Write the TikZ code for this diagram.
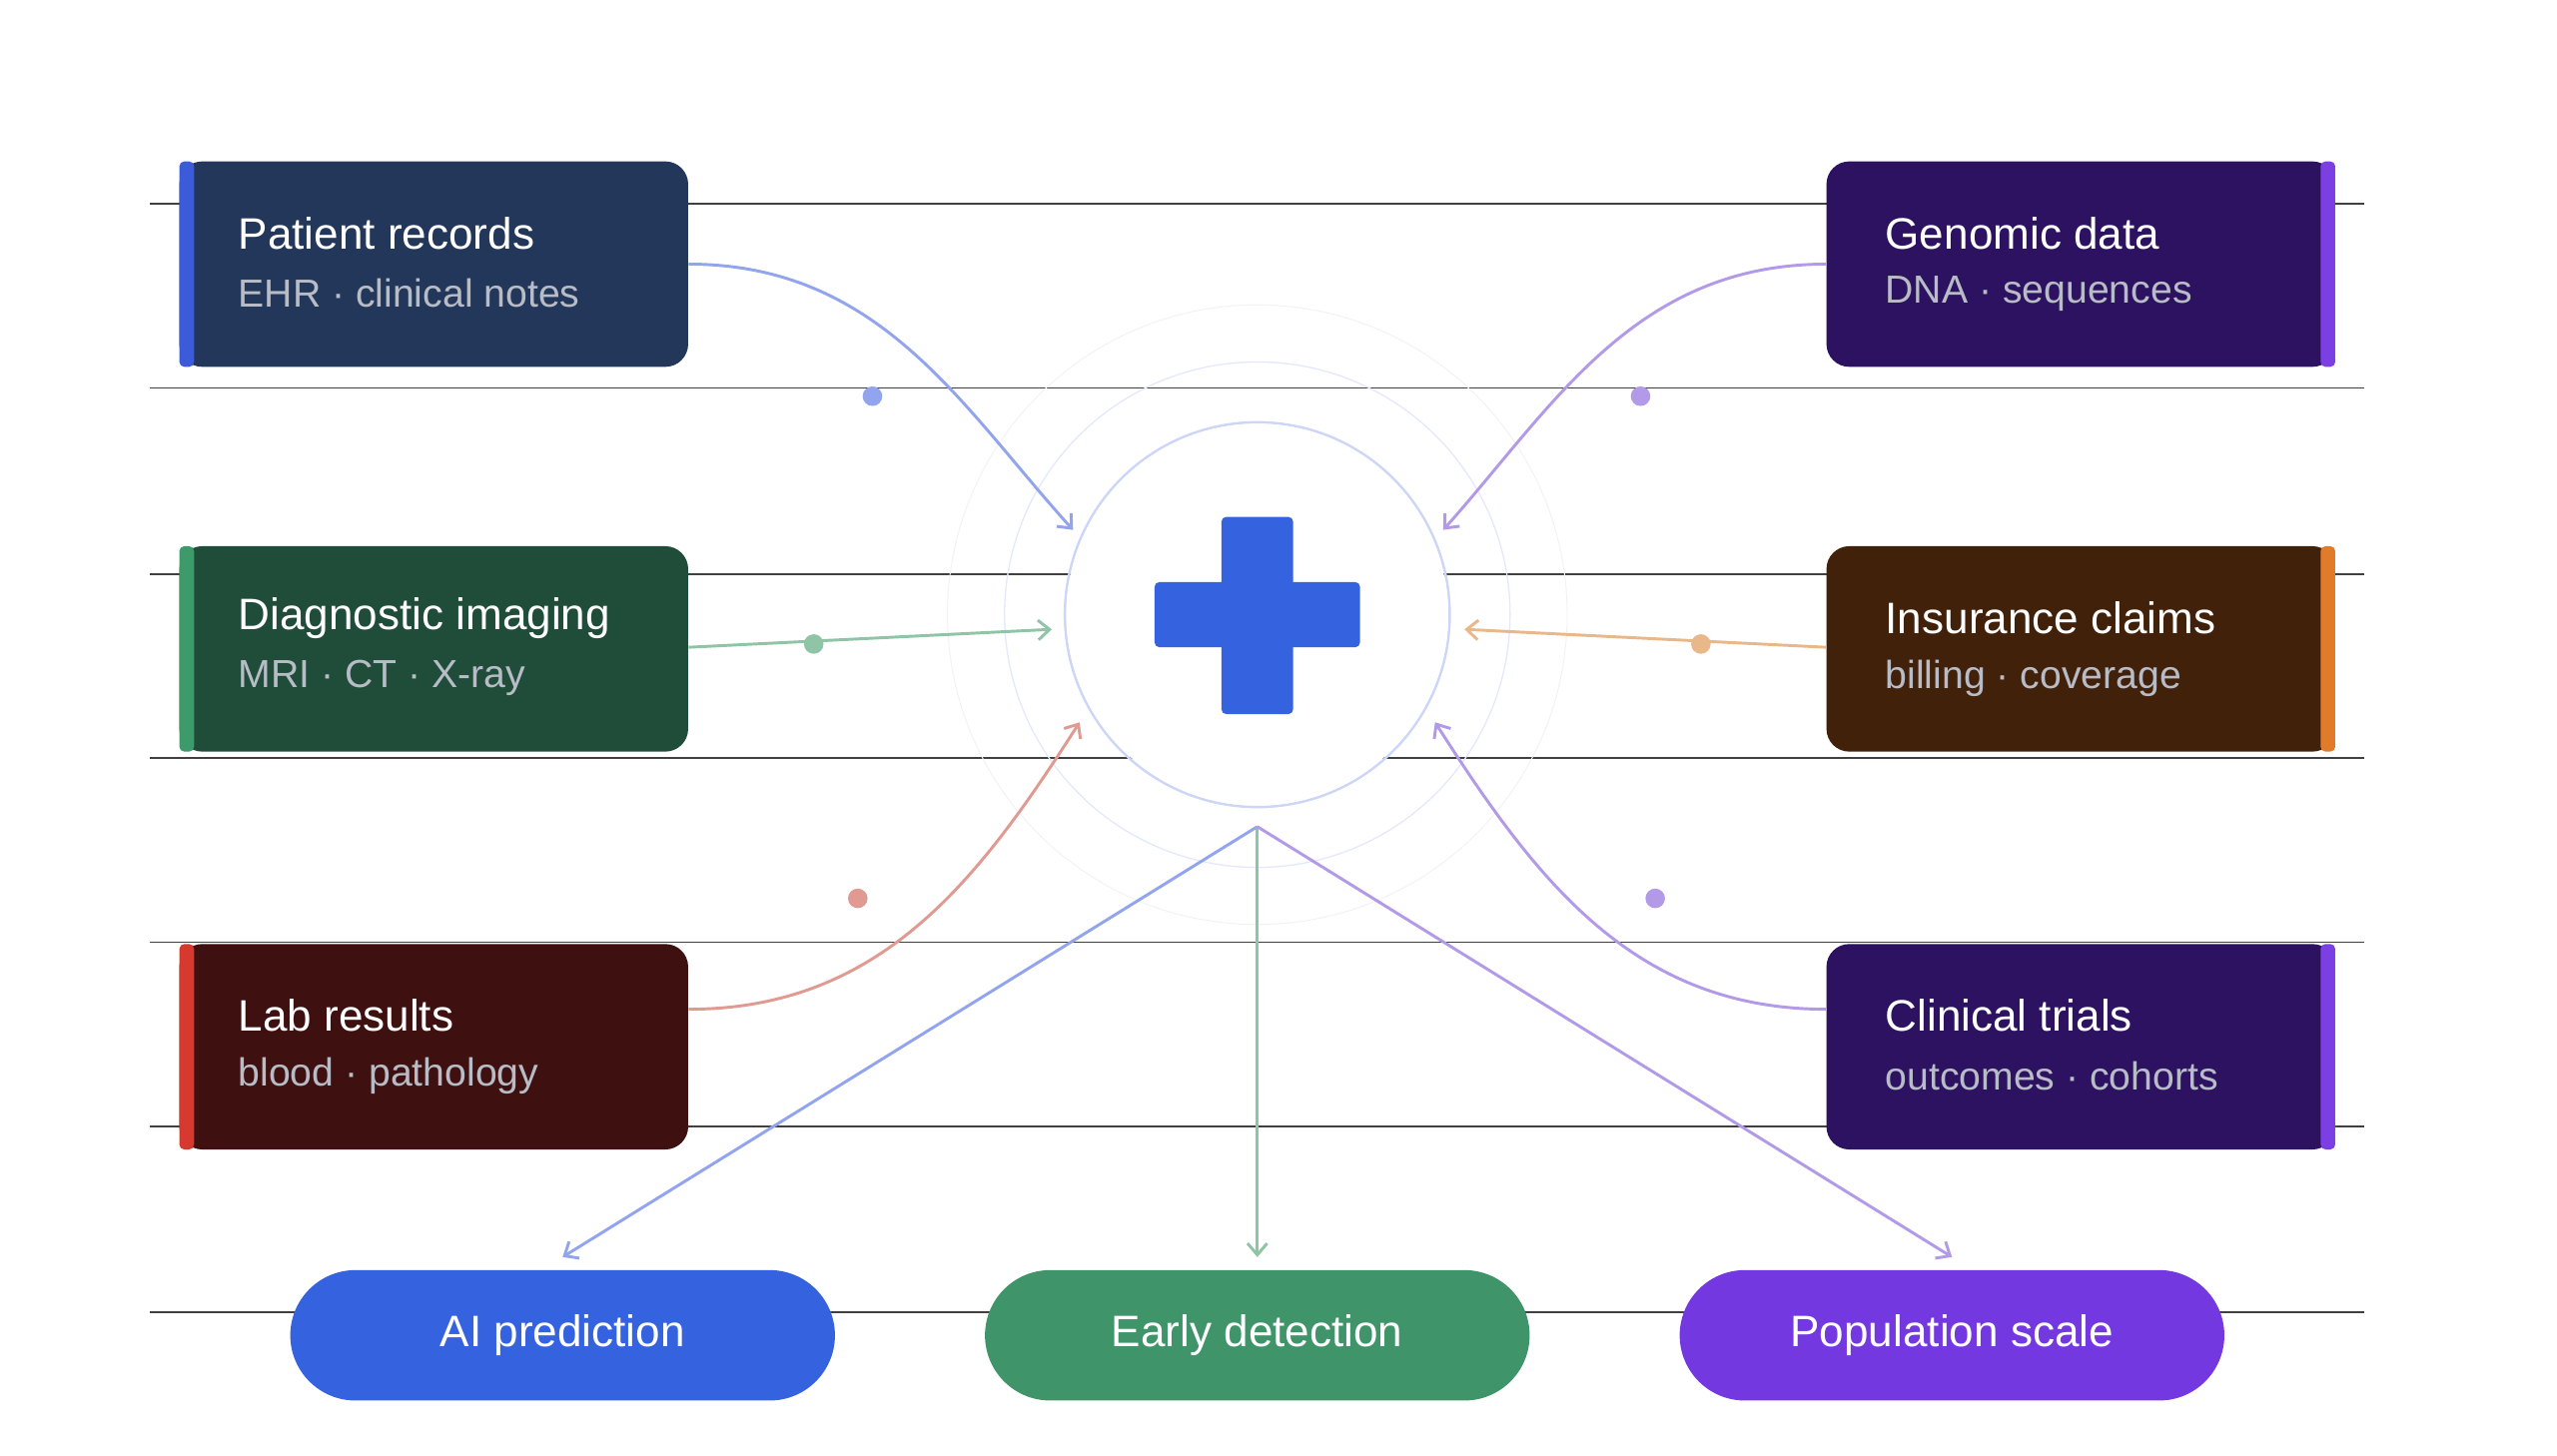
\documentclass[tikz,border=0pt]{standalone}
\usepackage{fontspec}
\setmainfont{Liberation Sans}
\usetikzlibrary{arrows.meta}
\definecolor{bA}{HTML}{22375A}\definecolor{aA}{HTML}{3B5BDB}
\definecolor{bB}{HTML}{1F4D3A}\definecolor{aB}{HTML}{3D9A6A}
\definecolor{bC}{HTML}{3F1010}\definecolor{aC}{HTML}{D63A2F}
\definecolor{bD}{HTML}{2C1260}\definecolor{aD}{HTML}{7B3FE4}
\definecolor{bE}{HTML}{42210B}\definecolor{aE}{HTML}{E07B2A}
\definecolor{cblue}{HTML}{93A4EF}\definecolor{cpur}{HTML}{B39AE8}
\definecolor{cgreen}{HTML}{8FC4A6}\definecolor{corange}{HTML}{E8B88A}
\definecolor{cred}{HTML}{E09A92}
\definecolor{pA}{HTML}{3563E0}\definecolor{pB}{HTML}{3F9569}\definecolor{pC}{HTML}{7438E0}
\definecolor{sub}{HTML}{B8BCC6}
\begin{document}
\begin{tikzpicture}[x=1pt,y=-1pt,
  box/.style={rounded corners=14pt,minimum width=312pt,minimum height=126pt,inner sep=0pt},
  ttl/.style={text=white,font=\fontsize{27}{30}\selectfont,anchor=west,inner sep=0pt},
  stl/.style={text=sub,font=\fontsize{24}{26}\selectfont,anchor=west,inner sep=0pt},
  pill/.style={rounded corners=40pt,minimum width=334pt,minimum height=80pt,text=white,font=\fontsize{27}{30}\selectfont},
  con/.style={line width=1.8pt,-{Straight Barb[length=7pt,width=12pt]}},
  dot/.style={circle,inner sep=0pt,minimum size=12pt}]
\useasboundingbox (0,0) rectangle (1568,893);
\foreach \y in {125,238,352,465,578,691,805} \draw[line width=1pt,black!75] (92,\y)--(1450,\y);
% circles
\draw[line width=0.6pt,black!5] (771,377) circle (190);
\draw[line width=0.8pt,cblue!25] (771,377) circle (155);
\draw[line width=1.5pt,cblue!45] (771,377) circle (118);
\fill[fill=white] (771,377) circle (117);
\node[fill=pA,rounded corners=3pt,minimum width=44pt,minimum height=121pt] (cv) at (771,377.5) {};
\node[fill=pA,rounded corners=3pt,minimum width=126pt,minimum height=40pt] (ch) at (771,377) {};
\coordinate (hub) at (771,507);
% boxes
\newcommand\lbox[6]{%
 \node[box,fill=#2] (#1) at (266,#4) {};
 \fill[#3,rounded corners=3pt] (110,#4-63) rectangle (119,#4+63);
 \node[ttl] at (146,#4-19) {#5};
 \node[stl] at (146,#4+18) {#6};}
\newcommand\rbox[6]{%
 \node[box,fill=#2] (#1) at (1276,#4) {};
 \fill[#3,rounded corners=3pt] (1423,#4-63) rectangle (1432,#4+63);
 \node[ttl] at (1156,#4-19) {#5};
 \node[stl] at (1156,#4+18) {#6};}
\lbox{pr}{bA}{aA}{162}{Patient records}{EHR · clinical notes}
\lbox{di}{bB}{aB}{398}{Diagnostic imaging}{MRI · CT · X-ray}
\lbox{lr}{bC}{aC}{642}{Lab results}{blood · pathology}
\rbox{gd}{bD}{aD}{162}{Genomic data}{DNA · sequences}
\rbox{ic}{bE}{aE}{398}{Insurance claims}{billing · coverage}
\rbox{ct}{bD}{aD}{642}{Clinical trials}{outcomes · cohorts}
\coordinate (t1) at (658,325);\coordinate (t2) at (885,325);
\coordinate (t3) at (645,386);\coordinate (t4) at (898,386);
\coordinate (t5) at (662,443);\coordinate (t6) at (880,443);
\draw[con,cblue] (pr.east|-0,162) .. controls (540,162) and (590,250) .. (t1);
\draw[con,cpur] (gd.west|-0,162) .. controls (1002,162) and (952,250) .. (t2);
\draw[con,cgreen] (di.east|-0,397) -- (t3);
\draw[con,corange] (ic.west|-0,397) -- (t4);
\draw[con,cred] (lr.east|-0,619) .. controls (540,619) and (600,540) .. (t5);
\draw[con,cpur] (ct.west|-0,619) .. controls (1002,619) and (942,540) .. (t6);
\node[dot,fill=cblue] (d1) at (535,243) {};
\node[dot,fill=cpur] (d2) at (1006,243) {};
\node[dot,fill=cgreen] (d3) at (499,395) {};
\node[dot,fill=corange] (d4) at (1043,395) {};
\node[dot,fill=cred] (d5) at (526,551) {};
\node[dot,fill=cpur] (d6) at (1015,551) {};
\node[pill,fill=pA] (p1) at (345,819) {AI prediction};
\node[pill,fill=pB] (p2) at (771,819) {Early detection};
\node[pill,fill=pC] (p3) at (1197,819) {Population scale};
\draw[con,cblue] (hub) -- (345,771);
\draw[con,cgreen] (hub) -- (771,771);
\draw[con,cpur] (hub) -- (1197,771);
\end{tikzpicture}
\end{document}
